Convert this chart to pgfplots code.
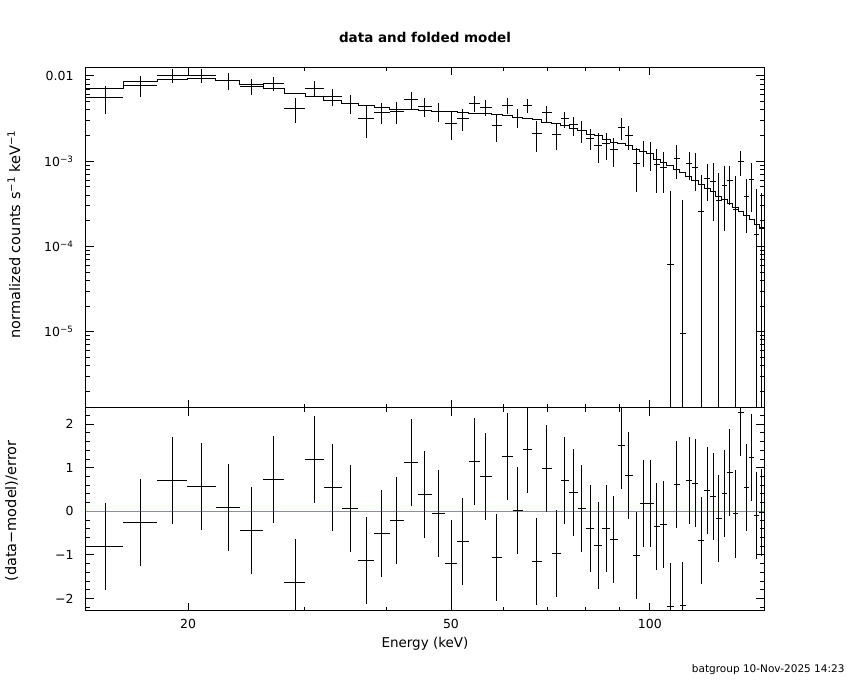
\documentclass[border=0pt]{standalone}
\usepackage{fontspec}
\setmainfont{DejaVu Sans}
\usepackage{pgfplots}
\usepackage{pgfplotstable}
\pgfplotsset{compat=1.18}
\definecolor{zerogreen}{rgb}{0.15,0.85,0.15}

\pgfplotstableread{
x xe y ep em r
14.975 0.975 0.00562 0.0020 0.0020 -0.80
16.95 1.0 0.00784 0.0021 0.0021 -0.25
18.94 0.99 0.0102 0.0020 0.0020 0.70
20.98 1.05 0.0102 0.0020 0.0020 0.57
22.99 0.96 0.00881 0.00195 0.00195 0.09
24.965 1.015 0.00757 0.0016 0.0016 -0.44
26.98 1.0 0.0082 0.00155 0.00155 0.73
29.04 1.06 0.00418 0.00134 0.00134 -1.64
31.095 0.995 0.00717 0.00148 0.00148 1.19
33.13 1.04 0.00578 0.0013 0.0013 0.55
35.175 1.005 0.00474 0.0012 0.0012 0.07
37.215 1.035 0.00319 0.0013 0.0013 -1.12
39.315 1.065 0.00378 0.00105 0.00105 -0.50
41.42 1.04 0.00382 0.0011 0.0011 -0.20
43.515 1.055 0.00533 0.0012 0.0012 1.12
45.655 1.085 0.00437 0.0011 0.0011 0.39
47.825 1.085 0.00386 0.0010 0.0010 -0.05
50.0 1.09 0.00279 0.0010 0.0010 -1.19
52.135 1.045 0.00316 0.0009 0.0009 -0.69
54.265 1.085 0.00482 0.0010 0.0010 1.15
56.48 1.13 0.0043 0.0009 0.0009 0.80
58.685 1.075 0.00264 0.00094 0.00094 -1.06
60.875 1.115 0.00454 0.00096 0.00096 1.26
63.085 1.095 0.00328 0.00085 0.00085 0.02
65.26 1.08 0.00454 0.0009 0.0009 1.42
67.46 1.12 0.00213 0.00085 0.00085 -1.15
69.79 1.21 0.00369 0.0008 0.0008 0.99
72.13 1.13 0.00207 0.0007 0.0007 -0.96
74.365 1.105 0.00313 0.0007 0.0007 0.71
76.6 1.13 0.00267 0.00067 0.00067 0.44
78.9 1.17 0.00229 0.00064 0.00064 0.07
81.2 1.13 0.00186 0.00052 0.00052 -0.39
83.495 1.165 0.00154 0.00059 0.00059 -0.78
85.85 1.19 0.0016 0.00057 0.00057 -0.39
88.2 1.16 0.00136 0.0005 0.0005 -0.64
90.545 1.185 0.00251 0.00072 0.00072 1.52
92.94 1.21 0.00198 0.00062 0.00062 0.83
95.31 1.16 0.00093 0.0005 0.0005 -1.01
97.665 1.195 0.0013 0.00045 0.00045 0.18
100.08 1.22 0.00122 0.00045 0.00045 0.18
102.45 1.15 0.000906 0.00048 0.00048 -0.34
104.8 1.2 0.000851 0.00043 0.00043 -0.30
107.3 1.3 0.000062 0.00038 0.0000619 -2.18
109.75 1.15 0.00108 0.00046 0.00046 0.62
112.15 1.25 0.0000096 0.00034 0.0000095 -2.16
114.6 1.2 0.000946 0.00035 0.00035 0.70
117.05 1.25 0.000851 0.0004 0.0004 0.65
119.55 1.25 0.000256 0.00043 0.0002559 -0.67
122.05 1.25 0.00063 0.00029 0.00029 0.47
124.6 1.3 0.000577 0.00038 0.00038 0.34
127.15 1.25 0.00035 0.00037 0.0003499 -0.16
129.65 1.25 0.000513 0.00036 0.00036 0.41
132.15 1.25 0.00059 0.00028 0.00028 0.90
134.7 1.3 0.000273 0.00039 0.0002729 -0.06
137.3 1.3 0.00099 0.00032 0.00032 2.28
139.95 1.35 0.000385 0.00024 0.00024 0.55
142.55 1.25 0.000604 0.00035 0.00035 1.24
145.05 1.25 0.00014 0.00033 0.0001399 -0.09
147.65 1.35 0.000164 0.00026 0.0001639 -0.02
}\datatab

\pgfplotstableread{
e m
14.00 0.00723
15.95 0.00851
17.95 0.00898
19.93 0.00923
22.03 0.00881
23.95 0.00798
25.98 0.00705
27.98 0.00626
30.10 0.00572
32.09 0.00519
34.17 0.00474
36.18 0.00454
38.25 0.00426
40.38 0.00406
42.46 0.00406
44.57 0.00396
46.74 0.00386
48.91 0.00382
51.09 0.00372
53.18 0.00366
55.35 0.00359
57.61 0.00349
59.76 0.0034
61.99 0.00328
64.18 0.00316
66.34 0.00305
68.58 0.00286
71.00 0.00279
73.26 0.0026
75.47 0.00244
77.73 0.00229
80.07 0.00207
82.33 0.00198
84.66 0.00181
87.04 0.00168
89.36 0.00163
91.73 0.00151
94.15 0.00138
96.47 0.0013
98.86 0.00122
101.3 0.00105
103.6 0.00096
106.0 0.00088
108.6 0.0008
110.9 0.00073
113.4 0.00067
115.8 0.0006
118.3 0.00053
120.8 0.00048
123.3 0.00044
125.9 0.00039
128.4 0.00036
130.9 0.00032
133.4 0.000286
136.0 0.000256
138.6 0.000228
141.3 0.000205
143.8 0.00018
146.3 0.000165
149.0 0.000165
}\modeltab

\begin{document}
\begin{tikzpicture}
\useasboundingbox (0pt,0pt) rectangle (850pt,680pt);
\pgfplotsset{
  every axis/.append style={
    scale only axis, width=678.6pt, xmode=log, xmin=14, xmax=149,
    axis line style={line width=1pt},
    tick style={black, line width=1pt},
    major tick length=8pt, minor tick length=4pt,
    tick label style={font=\fontsize{12.5}{14}\selectfont},
    xtick={20,50,100}, minor xtick={30,40,60,70,80,90},
    yticklabel style={inner sep=0pt, xshift=-12pt},
    xticklabel style={inner sep=0pt, yshift=-8pt},
  },
}
\begin{axis}[at={(85.7pt,272.3pt)}, anchor=south west, height=340.2pt,
  ymode=log, ymin=1.283e-6, ymax=0.01258,
  ytick={1e-5,1e-4,1e-3,1e-2},
  yticklabels={10\textsuperscript{−5},10\textsuperscript{−4},10\textsuperscript{−3},0.01},
  minor ytick={2e-6,3e-6,4e-6,5e-6,6e-6,7e-6,8e-6,9e-6,2e-5,3e-5,4e-5,5e-5,6e-5,7e-5,8e-5,9e-5,2e-4,3e-4,4e-4,5e-4,6e-4,7e-4,8e-4,9e-4,2e-3,3e-3,4e-3,5e-3,6e-3,7e-3,8e-3,9e-3},
  xticklabels={,,}]
\addplot[black, line width=1pt, const plot mark left] table[x=e, y=m]{\modeltab};
\addplot[draw=none, error bars/.cd, x dir=both, x explicit, y dir=both, y explicit,
  error mark=none, error bar style={draw=black, line width=1pt}]
  table[x=x, y=y, x error=xe, y error plus=ep, y error minus=em]{\datatab};
\end{axis}
\begin{axis}[at={(85.7pt,69.3pt)}, anchor=south west, height=203pt,
  ymin=-2.28, ymax=2.38,
  ytick={-2,-1,0,1,2}, yticklabels={−2,−1,0,1,2},
  minor ytick={-2.2,-1.8,-1.6,-1.4,-1.2,-0.8,-0.6,-0.4,-0.2,0.2,0.4,0.6,0.8,1.2,1.4,1.6,1.8,2.2},
  xticklabels={20,50,100}]
\addplot[zerogreen, line width=1pt] coordinates {(14,0) (149,0)};
\addplot[draw=none, error bars/.cd, x dir=both, x explicit, y dir=both, y fixed=1,
  error mark=none, error bar style={draw=black, line width=1pt}]
  table[x=x, y=r, x error=xe]{\datatab};
\end{axis}
\node[anchor=base, font=\bfseries\fontsize{13.5}{15}\selectfont] at (425pt,637pt) {data and folded model};
\node[rotate=90, anchor=base, font=\fontsize{14.5}{16}\selectfont] at (20pt,445.8pt) {normalized counts s\textsuperscript{−1} keV\textsuperscript{−1}};
\node[rotate=90, anchor=base, font=\fontsize{14.5}{16}\selectfont] at (16pt,169pt) {(data−model)/error};
\node[anchor=base, font=\fontsize{13.5}{15}\selectfont] at (425pt,33pt) {Energy (keV)};
\node[anchor=base east, font=\fontsize{10.5}{12}\selectfont] at (848pt,8pt) {batgroup 10-Nov-2025 14:23};
\end{tikzpicture}
\end{document}
